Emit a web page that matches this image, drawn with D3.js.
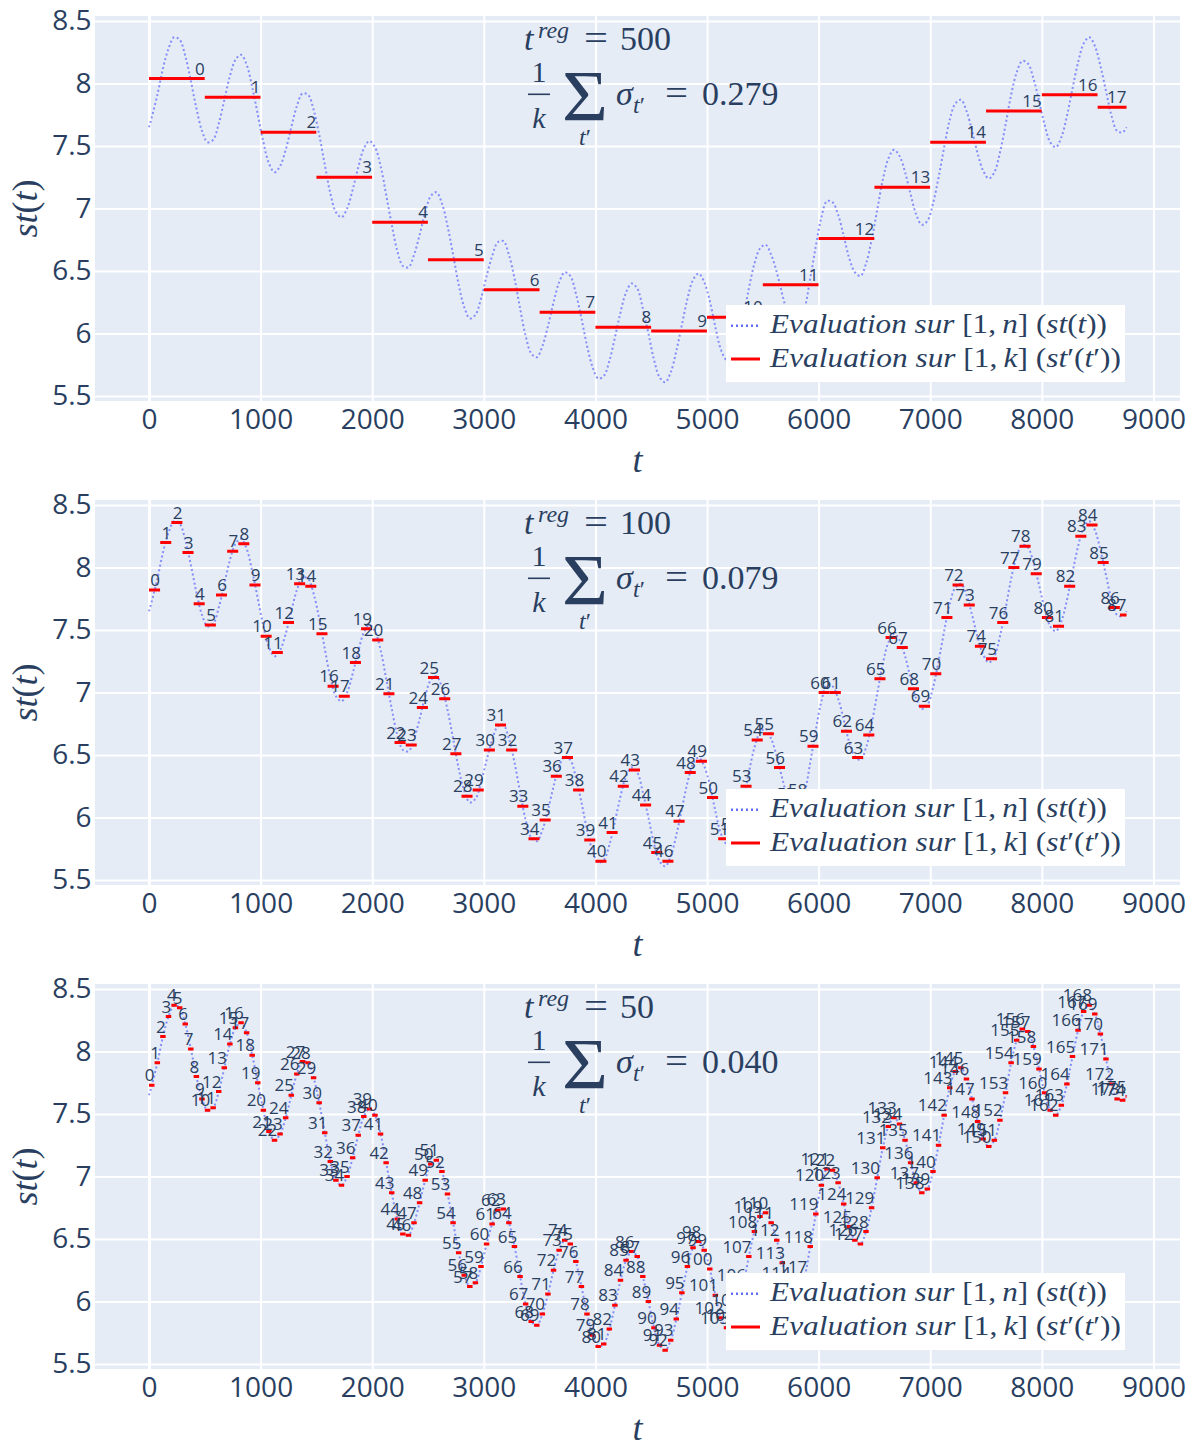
<!DOCTYPE html>
<html>
<head>
<meta charset="utf-8">
<script src="https://cdn.jsdelivr.net/npm/d3@7"></script>
<style>
  body { margin: 0; background: #ffffff; }
  svg { display: block; }
</style>
</head>
<body>
<svg id="chart" width="1195" height="1446"></svg>
<script>
// ---------------- DATA ----------------
const T_END = 8759;
const tregValues = [500, 100, 50];
const sigmaMeans = ["0.279", "0.079", "0.040"];
const xTicks = [0, 1000, 2000, 3000, 4000, 5000, 6000, 7000, 8000, 9000];
const xTickLabels = ["0", "1000", "2000", "3000", "4000", "5000", "6000", "7000", "8000", "9000"];
const yTicks = [5.5, 6, 6.5, 7, 7.5, 8, 8.5];
const yTickLabels = ["5.5", "6", "6.5", "7", "7.5", "8", "8.5"];

// st(t) at t = 0, 25, 75, 125, ..., 8725, 8759
const curveT = [0].concat(d3.range(25, 8726, 50), [T_END]);
const curveValues = [7.65,
  7.73, 7.91, 8.12, 8.28, 8.37, 8.35, 8.22, 8.02, 7.80, 7.62,
  7.53, 7.55, 7.68, 7.87, 8.06, 8.19, 8.23, 8.15, 7.97, 7.75,
  7.53, 7.36, 7.29, 7.34, 7.47, 7.65, 7.82, 7.92, 7.91, 7.79,
  7.59, 7.35, 7.12, 6.97, 6.93, 7.00, 7.15, 7.33, 7.48, 7.54,
  7.49, 7.34, 7.11, 6.87, 6.66, 6.54, 6.53, 6.63, 6.79, 6.97,
  7.10, 7.13, 7.04, 6.86, 6.63, 6.39, 6.21, 6.12, 6.15, 6.28,
  6.46, 6.62, 6.73, 6.74, 6.63, 6.44, 6.20, 5.98, 5.84, 5.81,
  5.90, 6.06, 6.25, 6.41, 6.49, 6.46, 6.32, 6.12, 5.90, 5.73,
  5.64, 5.66, 5.78, 5.97, 6.17, 6.33, 6.40, 6.36, 6.20, 6.00,
  5.79, 5.65, 5.61, 5.69, 5.86, 6.07, 6.28, 6.43, 6.48, 6.41,
  6.26, 6.05, 5.87, 5.79, 5.81, 5.93, 6.13, 6.36, 6.56, 6.68,
  6.71, 6.63, 6.49, 6.31, 6.15, 6.06, 6.07, 6.20, 6.44, 6.70,
  6.93, 7.06, 7.05, 6.95, 6.78, 6.60, 6.49, 6.46, 6.56, 6.75,
  6.99, 7.23, 7.40, 7.47, 7.42, 7.29, 7.11, 6.95, 6.87, 6.90,
  7.04, 7.25, 7.49, 7.71, 7.84, 7.87, 7.78, 7.62, 7.44, 7.30,
  7.24, 7.29, 7.45, 7.67, 7.91, 8.09, 8.18, 8.16, 8.04, 7.86,
  7.67, 7.53, 7.49, 7.57, 7.74, 7.96, 8.17, 8.32, 8.37, 8.30,
  8.14, 7.94, 7.74, 7.62, 7.61,
  7.65];

// window means, t_reg = 500
const red500 = [8.04, 7.89, 7.61, 7.25, 6.89, 6.59, 6.35, 6.17, 6.05, 6.02,
  6.13, 6.39, 6.76, 7.17, 7.53, 7.78, 7.91, 7.81];

// window means, t_reg = 100
const red100 = [
  7.82, 8.20, 8.36, 8.12, 7.71, 7.54, 7.78, 8.13, 8.19, 7.86,
  7.45, 7.32, 7.56, 7.87, 7.85, 7.47, 7.05, 6.97, 7.24, 7.51,
  7.42, 6.99, 6.60, 6.58, 6.88, 7.12, 6.95, 6.51, 6.17, 6.22,
  6.54, 6.74, 6.54, 6.09, 5.83, 5.98, 6.33, 6.48, 6.22, 5.82,
  5.65, 5.88, 6.25, 6.38, 6.10, 5.72, 5.65, 5.97, 6.36, 6.45,
  6.16, 5.83, 5.87, 6.25, 6.62, 6.67, 6.40, 6.11, 6.14, 6.57,
  7.00, 7.00, 6.69, 6.48, 6.66, 7.11, 7.44, 7.36, 7.03, 6.89,
  7.15, 7.60, 7.86, 7.70, 7.37, 7.27, 7.56, 8.00, 8.17, 7.95,
  7.60, 7.53, 7.85, 8.25, 8.34, 8.04, 7.68, 7.62];

// window means, t_reg = 50
const red50 = [
  7.73, 7.91, 8.12, 8.28, 8.37, 8.35, 8.22, 8.02, 7.80, 7.62,
  7.53, 7.55, 7.68, 7.87, 8.06, 8.19, 8.23, 8.15, 7.97, 7.75,
  7.53, 7.36, 7.29, 7.34, 7.47, 7.65, 7.82, 7.92, 7.91, 7.79,
  7.59, 7.35, 7.12, 6.97, 6.93, 7.00, 7.15, 7.33, 7.48, 7.54,
  7.49, 7.34, 7.11, 6.87, 6.66, 6.54, 6.53, 6.63, 6.79, 6.97,
  7.10, 7.13, 7.04, 6.86, 6.63, 6.39, 6.21, 6.12, 6.15, 6.28,
  6.46, 6.62, 6.73, 6.74, 6.63, 6.44, 6.20, 5.98, 5.84, 5.81,
  5.90, 6.06, 6.25, 6.41, 6.49, 6.46, 6.32, 6.12, 5.90, 5.73,
  5.64, 5.66, 5.78, 5.97, 6.17, 6.33, 6.40, 6.36, 6.20, 6.00,
  5.79, 5.65, 5.61, 5.69, 5.86, 6.07, 6.28, 6.43, 6.48, 6.41,
  6.26, 6.05, 5.87, 5.79, 5.81, 5.93, 6.13, 6.36, 6.56, 6.68,
  6.71, 6.63, 6.49, 6.31, 6.15, 6.06, 6.07, 6.20, 6.44, 6.70,
  6.93, 7.06, 7.05, 6.95, 6.78, 6.60, 6.49, 6.46, 6.56, 6.75,
  6.99, 7.23, 7.40, 7.47, 7.42, 7.29, 7.11, 6.95, 6.87, 6.90,
  7.04, 7.25, 7.49, 7.71, 7.84, 7.87, 7.78, 7.62, 7.44, 7.30,
  7.24, 7.29, 7.45, 7.67, 7.91, 8.09, 8.18, 8.16, 8.04, 7.86,
  7.67, 7.53, 7.49, 7.57, 7.74, 7.96, 8.17, 8.32, 8.37, 8.30,
  8.14, 7.94, 7.74, 7.62, 7.61, 7.64];

const redSeries = [red500, red100, red50];

// ---------------- LAYOUT ----------------
const W = 1195, H = 1446;
const PLOT_L = 95, PLOT_R = 1180, PLOT_H = 385, PANEL_STEP = 484, FIRST_TOP = 16;
const TEXT_COLOR = "#2a3f5f";
const BG = "#e5ecf6";
const BLUE = "#636efa";
const RED = "#ff0000";
const SANS = "'Open Sans', 'DejaVu Sans', sans-serif";
const MATH = "'Liberation Serif', 'DejaVu Serif', serif";

const svg = d3.select("#chart");
svg.append("rect").attr("width", W).attr("height", H).attr("fill", "#ffffff");

function mtext(g, x, y, parts, size, anchor) {
  const t = g.append("text")
    .attr("x", x).attr("y", y)
    .attr("font-family", MATH)
    .attr("font-size", size)
    .attr("fill", TEXT_COLOR)
    .attr("text-anchor", anchor || "start");
  parts.forEach(p => {
    t.append("tspan")
      .attr("font-style", p[1] ? "italic" : "normal")
      .text(p[0]);
  });
  return t;
}

tregValues.forEach((treg, i) => {
  const top = FIRST_TOP + i * PANEL_STEP;
  const bottom = top + PLOT_H;
  const g = svg.append("g");

  const x = d3.scaleLinear().domain([-484, 9238]).range([PLOT_L, PLOT_R]);
  const y = d3.scaleLinear().domain([5.46, 8.54]).range([bottom, top]);

  // background
  g.append("rect")
    .attr("x", PLOT_L).attr("y", top)
    .attr("width", PLOT_R - PLOT_L).attr("height", PLOT_H)
    .attr("fill", BG);

  // y axis + grid
  const yAxis = g.append("g")
    .attr("transform", `translate(${PLOT_L},0)`)
    .call(d3.axisLeft(y).tickValues(yTicks)
      .tickFormat((d, k) => yTickLabels[k])
      .tickSize(-(PLOT_R - PLOT_L)).tickPadding(3.5));
  yAxis.select(".domain").remove();
  yAxis.selectAll("line").attr("stroke", "#ffffff").attr("stroke-width", 2);
  yAxis.selectAll("text")
    .attr("font-family", SANS).attr("font-size", 28).attr("fill", TEXT_COLOR);

  // x axis + grid
  const xAxis = g.append("g")
    .attr("transform", `translate(0,${bottom})`)
    .call(d3.axisBottom(x).tickValues(xTicks)
      .tickFormat((d, k) => xTickLabels[k])
      .tickSize(-PLOT_H).tickPadding(8));
  xAxis.select(".domain").remove();
  xAxis.selectAll("line").attr("stroke", "#ffffff")
    .attr("stroke-width", d => d === 0 ? 3 : 2);
  xAxis.selectAll("text")
    .attr("font-family", SANS).attr("font-size", 28).attr("fill", TEXT_COLOR);

  // axis titles
  mtext(g, (PLOT_L + PLOT_R) / 2, top + 456, [["t", true]], 36, "middle");
  const yt = mtext(g, 0, 0, [["st", true], ["(", false], ["t", true], [")", false]], 36, "middle");
  yt.attr("transform", `translate(37,${top + PLOT_H / 2}) rotate(-90)`);

  // blue curve
  const line = d3.line()
    .x((d, k) => x(curveT[k]))
    .y(d => y(d))
    .curve(d3.curveCatmullRom.alpha(0.5));
  g.append("path")
    .datum(curveValues)
    .attr("d", line)
    .attr("fill", "none")
    .attr("stroke", BLUE)
    .attr("stroke-width", 2)
    .attr("stroke-opacity", 0.75)
    .attr("stroke-dasharray", "2,2.6");

  // red window means
  const reds = redSeries[i].map((v, k) => ({
    k: k, v: v,
    t0: k * treg,
    t1: Math.min(k * treg + treg - 1, T_END)
  }));
  g.selectAll("line.seg").data(reds).enter().append("line")
    .attr("class", "seg")
    .attr("x1", d => x(d.t0)).attr("x2", d => x(d.t1))
    .attr("y1", d => y(d.v)).attr("y2", d => y(d.v))
    .attr("stroke", RED).attr("stroke-width", 3);
  g.selectAll("text.lbl").data(reds).enter().append("text")
    .attr("class", "lbl")
    .attr("x", d => x(d.t1))
    .attr("y", d => y(d.v) - 4)
    .attr("text-anchor", "end")
    .attr("font-family", SANS).attr("font-size", 17)
    .attr("fill", TEXT_COLOR)
    .text(d => String(d.k));

  // annotation
  const P = top;
  mtext(g, 524, P + 34, [["t", true]], 34);
  mtext(g, 538, P + 22, [["reg", true]], 24);
  mtext(g, 584, P + 34, [["=", false]], 36).attr("textLength", 24).attr("lengthAdjust", "spacingAndGlyphs");
  mtext(g, 620, P + 34, [[String(treg), false]], 34);
  mtext(g, 539, P + 66, [["1", false]], 30, "middle");
  g.append("line").attr("x1", 528).attr("x2", 550)
    .attr("y1", P + 78.3).attr("y2", P + 78.3)
    .attr("stroke", TEXT_COLOR).attr("stroke-width", 1.6);
  mtext(g, 539, P + 112, [["k", true]], 30, "middle");
  mtext(g, 562, P + 104, [["\u03A3", false]], 72).attr("textLength", 46).attr("lengthAdjust", "spacingAndGlyphs");
  mtext(g, 585, P + 129, [["t", true], ["\u2032", false]], 24, "middle");
  mtext(g, 616, P + 89, [["\u03C3", true]], 34);
  mtext(g, 633, P + 97, [["t", true], ["\u2032", false]], 24);
  mtext(g, 665, P + 89, [["=", false]], 36).attr("textLength", 23).attr("lengthAdjust", "spacingAndGlyphs");
  mtext(g, 702, P + 89, [[sigmaMeans[i], false]], 34);

  // legend
  const lg = g.append("g");
  lg.append("rect")
    .attr("x", 726).attr("y", P + 289)
    .attr("width", 399).attr("height", 77)
    .attr("fill", "#ffffff");
  lg.append("line").attr("x1", 731).attr("x2", 760)
    .attr("y1", P + 309.7).attr("y2", P + 309.7)
    .attr("stroke", BLUE).attr("stroke-width", 2.4)
    .attr("stroke-dasharray", "2,3");
  lg.append("line").attr("x1", 731).attr("x2", 760)
    .attr("y1", P + 343).attr("y2", P + 343)
    .attr("stroke", RED).attr("stroke-width", 3);
  const e1 = mtext(lg, 770, P + 317.3, [["Evaluation", true], [" ", false], ["sur", true], [" [1,\u2009", false], ["n", true], ["] (", false], ["st", true], ["(", false], ["t", true], ["))", false]], 27);
  const e2 = mtext(lg, 770, P + 351.3, [["Evaluation", true], [" ", false], ["sur", true], [" [1,\u2009", false], ["k", true], ["] (", false], ["st", true], ["\u2032(", false], ["t", true], ["\u2032))", false]], 27);
  e1.attr("textLength", 337).attr("lengthAdjust", "spacingAndGlyphs");
  e2.attr("textLength", 351).attr("lengthAdjust", "spacingAndGlyphs");
});
</script>
</body>
</html>
